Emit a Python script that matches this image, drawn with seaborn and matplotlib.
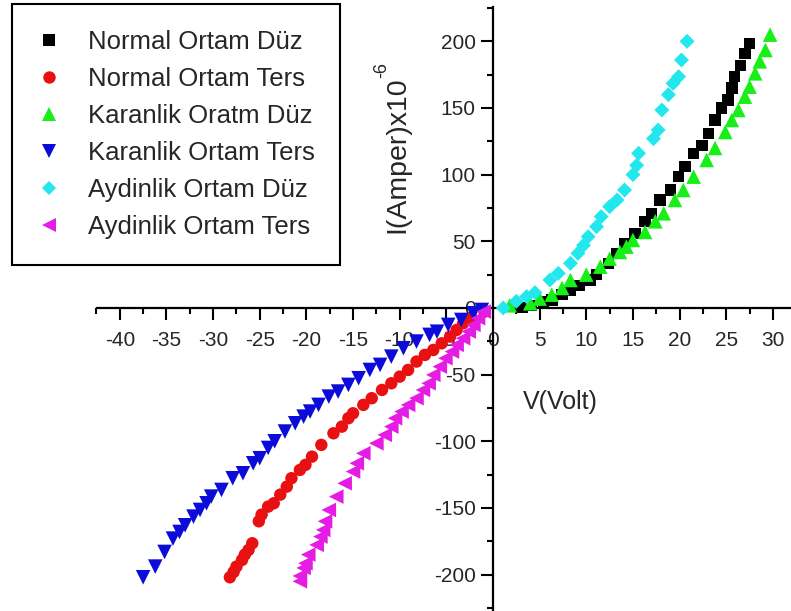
import pandas as pd
import numpy as np
import matplotlib
matplotlib.use('Agg')
import matplotlib.pyplot as plt
from matplotlib.lines import Line2D
from matplotlib.ticker import FixedLocator
import seaborn as sns

# ==================== data ====================
seri_adlari = ['Normal Ortam Düz', 'Normal Ortam Ters', 'Karanlik Oratm Düz',
               'Karanlik Ortam Ters', 'Aydinlik Ortam Düz', 'Aydinlik Ortam Ters']

normal_duz_v = [3.1, 4.1, 5.4, 6.3, 7.4, 8.3, 9.3, 10.4, 11.1, 12.4, 13.3, 14.1, 15.2, 16.3,
                17.0, 17.9, 19.0, 19.9, 20.6, 21.5, 22.4, 23.1, 23.8, 24.5, 25.2, 25.6, 25.9,
                26.5, 27.0, 27.5]
normal_duz_i = [0.5, 2, 5, 6, 10, 13.5, 17, 21, 25, 33.5, 41, 48.5, 56, 65,
                71, 81, 88.5, 98.5, 106, 116, 122, 131, 141, 150, 156, 165, 173.5,
                182, 191, 198.5]

normal_ters_v = [-28.2, -27.8, -27.5, -26.9, -26.6, -26.2, -25.8, -25.1, -24.8, -24.1, -23.5,
                 -22.8, -22.1, -21.6, -20.7, -20.1, -19.4, -18.4, -17.1, -16.2, -15.5, -15.0,
                 -13.9, -13.0, -11.9, -10.9, -10.0, -9.1, -8.2, -7.3, -6.4, -5.5, -4.6, -3.9,
                 -3.2, -2.3, -0.9]
normal_ters_i = [-202, -198, -194, -189, -185, -181.5, -176.5, -160, -155, -149, -146.5,
                 -140, -134, -127.7, -121.5, -117.7, -111.5, -102.7, -94, -89, -82.7, -79,
                 -72.7, -67.7, -61.5, -56.5, -51.5, -46.5, -40.2, -35.2, -31.5, -26.5, -21.5, -16.5,
                 -11.5, -7.7, -2.7]

karanlik_duz_v = [1.8, 4.0, 5.0, 6.3, 7.4, 8.3, 10.0, 11.5, 12.5, 13.6, 14.3, 15.0, 16.3, 17.4,
                  18.3, 19.5, 20.4, 21.5, 22.9, 23.8, 24.9, 25.6, 26.3, 27.0, 27.5, 28.1, 28.6,
                  29.2, 29.7]
karanlik_duz_i = [2, 3.5, 7, 10, 15, 21, 25, 31, 37, 42, 46, 51, 57, 65,
                  71, 81, 88.5, 98.5, 111, 120, 132, 141, 148.5, 158.5, 166, 176, 185,
                  193.5, 205]

karanlik_ters_v = [-37.5, -36.2, -35.2, -34.3, -33.6, -33.0, -32.1, -31.4, -30.7, -30.2, -29.1,
                   -27.9, -26.8, -25.7, -25.0, -24.1, -23.4, -22.3, -21.2, -20.3, -19.6, -18.7,
                   -17.6, -16.6, -15.5, -14.4, -13.2, -12.1, -10.9, -9.6, -8.2, -6.8, -6.0, -4.8,
                   -3.4, -2.1, -1.2]
karanlik_ters_i = [-202, -194, -183, -173, -168, -163, -156.5, -151.5, -146.5, -141.5, -136.5,
                   -127.7, -124, -116.5, -112.7, -105, -100, -92.7, -86.5, -81.5, -77.7, -72.7,
                   -66.5, -62.7, -57.7, -52.7, -46.5, -42.7, -36.5, -30.2, -25.2, -20.2, -17.8, -12.7,
                   -9, -4, -1.5]

aydinlik_duz_v = [1.1, 2.5, 3.6, 4.5, 6.1, 7.0, 8.3, 9.1, 9.7, 10.2, 11.1, 11.6, 12.5, 13.3,
                  14.1, 15.0, 15.4, 15.6, 17.2, 17.7, 18.1, 18.8, 19.3, 19.9, 20.2, 20.8]
aydinlik_duz_i = [0, 5, 8.5, 11.5, 21, 26, 33.5, 41, 47, 53.5, 61, 68.5, 76, 81,
                  88.5, 100, 107, 116, 127, 133.5, 148.5, 160, 168.5, 173.5, 186, 200]

aydinlik_ters_v = [-20.7, -20.7, -20.3, -20.1, -19.8, -18.9, -18.5, -18.2, -18.0, -17.6, -16.8,
                   -15.9, -15.0, -14.6, -13.9, -12.5, -11.6, -10.9, -10.5, -9.8, -9.1, -8.2,
                   -7.5, -6.9, -6.4, -5.7, -5.1, -4.4, -3.9, -3.2, -2.6, -2.1, -1.6, -1.0]
aydinlik_ters_i = [-205, -201, -195, -191.5, -185, -177.7, -171.5, -166.5, -160, -151.5, -141.5,
                   -131.5, -122.7, -116.5, -109, -101.5, -95.2, -89, -82.7, -77.7, -72.7, -67.7,
                   -61.5, -56.5, -50.2, -44, -37.7, -32.7, -27.7, -22.7, -17.7, -12.7, -7.7, -2.7]

x_ticks = [-40, -35, -30, -25, -20, -15, -10, -5, 0, 5, 10, 15, 20, 25, 30]
y_ticks = [-200, -150, -100, -50, 0, 50, 100, 150, 200]

# ==================== long form table ====================
parcalar = []
for ad, v, i in zip(seri_adlari,
                    [normal_duz_v, normal_ters_v, karanlik_duz_v, karanlik_ters_v, aydinlik_duz_v, aydinlik_ters_v],
                    [normal_duz_i, normal_ters_i, karanlik_duz_i, karanlik_ters_i, aydinlik_duz_i, aydinlik_ters_i]):
    parcalar.append(pd.DataFrame({'V': v, 'I': i, 'seri': ad}))
df = pd.concat(parcalar, ignore_index=True)

renkler = dict(zip(seri_adlari, ['#000000', '#e81010', '#18ee18', '#0c0cd8', '#22e8ee', '#e41ce4']))
isaretler = dict(zip(seri_adlari, ['s', 'o', '^', 'v', 'D', '<']))
boyutlar = dict(zip(seri_adlari, [68, 80, 110, 110, 58, 110]))

sns.set_style('white')
plt.rcParams['font.family'] = ['Liberation Sans', 'DejaVu Sans']
plt.rcParams['axes.unicode_minus'] = False

fig = plt.figure(figsize=(7.91, 6.11), dpi=100)
ax = fig.add_axes([0, 0, 1, 1])

sns.scatterplot(data=df, x='V', y='I', hue='seri', style='seri', size='seri',
                palette=renkler, markers=isaretler, sizes=boyutlar,
                linewidth=0, legend=False, ax=ax, zorder=3)

# eksenler orijinden geciyor
ax.set_xlim(-52.84, 31.94)
ax.set_ylim(-227.3, 231.0)
for s in ['top', 'right']:
    ax.spines[s].set_visible(False)
ax.spines['left'].set_position('zero')
ax.spines['bottom'].set_position('zero')
ax.spines['bottom'].set_bounds(-42.45, 31.94)
ax.spines['left'].set_bounds(-227.3, 225.8)
for s in ['left', 'bottom']:
    ax.spines[s].set_linewidth(1.6)
    ax.spines[s].set_color('black')

ax.set_xticks(x_ticks)
ax.set_yticks(y_ticks)
ax.xaxis.set_minor_locator(FixedLocator(np.arange(-42.5, 31, 2.5)))
ax.yaxis.set_minor_locator(FixedLocator(np.arange(-225, 226, 25)))
ax.tick_params(which='major', length=8.5, width=1.5, labelsize=15, color='black', direction='out')
ax.tick_params(which='minor', length=4.5, width=1.5, color='black', direction='out')
ax.tick_params(axis='x', which='both', bottom=True, pad=8)
ax.tick_params(axis='y', which='both', left=True, pad=4)
ax.set_xlabel('')
ax.set_ylabel('')

# y etiketi ve ust simge ayri yazildi (tire isareti icin)
fig.text(397 / 791, 1 - 155 / 611, 'I(Amper)x10', rotation=90,
         ha='center', va='center', fontsize=20.5)
fig.text(382 / 791, 1 - 78 / 611, '-6', rotation=90,
         ha='center', va='bottom', fontsize=13)
fig.text(560 / 791, 1 - 402 / 611, 'V(Volt)', ha='center', va='center', fontsize=18)

tutamaclar = [Line2D([], [], linestyle='none', marker=isaretler[a], color=renkler[a],
                     markersize=np.sqrt(boyutlar[a]), markeredgewidth=0) for a in seri_adlari]
leg = fig.legend(tutamaclar, seri_adlari, loc='upper left',
                 bbox_to_anchor=(12 / 791, 1 - 4 / 611), borderaxespad=0, fontsize=18.5,
                 frameon=True, fancybox=False, edgecolor='black', framealpha=1,
                 borderpad=1.0, labelspacing=0.51, handlelength=0.9, handletextpad=1.05)
leg.get_frame().set_linewidth(1.5)

plt.savefig('out.png', dpi=100)
